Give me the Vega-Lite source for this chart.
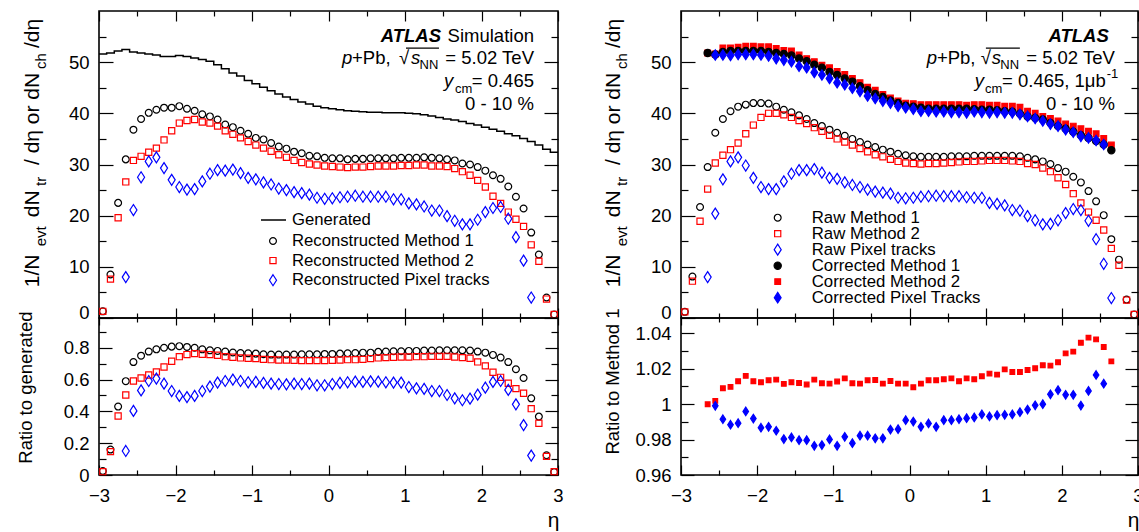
{
"$schema": "https://vega.github.io/schema/vega-lite/v6.json",
"padding": {"left": 15, "top": 9, "right": 0, "bottom": 0},
"background": "white",
"config": {
  "font": "Liberation Sans",
  "view": {"stroke": "black", "strokeWidth": 1.6},
  "axis": {"grid": false, "domain": false, "labelFont": "Liberation Sans", "labelFontSize": 18.5, "labelColor": "black", "tickColor": "black", "tickWidth": 1.2, "titleFont": "Liberation Sans", "titleColor": "black", "titleFontWeight": "normal", "labelFlush": false, "labelOverlap": false},
  "legend": {"labelFont": "Liberation Sans", "labelColor": "black", "padding": 0, "labelLimit": 400, "direction": "vertical", "columns": 1}
},
"datasets": {
"gen": [{"e":-3.0,"v":51.6},{"e":-2.9,"v":51.8},{"e":-2.8,"v":52.2},{"e":-2.7,"v":52.5},{"e":-2.6,"v":52.0},{"e":-2.5,"v":51.8},{"e":-2.4,"v":51.6},{"e":-2.3,"v":51.4},{"e":-2.2,"v":51.1},{"e":-2.1,"v":51.1},{"e":-2.0,"v":51.3},{"e":-1.9,"v":51.1},{"e":-1.8,"v":50.8},{"e":-1.7,"v":50.5},{"e":-1.6,"v":50.2},{"e":-1.5,"v":49.5},{"e":-1.4,"v":48.7},{"e":-1.3,"v":47.9},{"e":-1.2,"v":47.3},{"e":-1.1,"v":46.4},{"e":-1.0,"v":45.8},{"e":-0.9,"v":45.1},{"e":-0.8,"v":44.4},{"e":-0.7,"v":43.8},{"e":-0.6,"v":43.2},{"e":-0.5,"v":42.7},{"e":-0.4,"v":42.2},{"e":-0.3,"v":41.8},{"e":-0.2,"v":41.4},{"e":-0.1,"v":41.1},{"e":0.0,"v":40.9},{"e":0.1,"v":40.7},{"e":0.2,"v":40.5},{"e":0.3,"v":40.4},{"e":0.4,"v":40.3},{"e":0.5,"v":40.2},{"e":0.6,"v":40.2},{"e":0.7,"v":40.1},{"e":0.8,"v":40.1},{"e":0.9,"v":40.1},{"e":1.0,"v":40.0},{"e":1.1,"v":39.9},{"e":1.2,"v":39.7},{"e":1.3,"v":39.5},{"e":1.4,"v":39.2},{"e":1.5,"v":38.9},{"e":1.6,"v":38.7},{"e":1.7,"v":38.4},{"e":1.8,"v":38.0},{"e":1.9,"v":37.7},{"e":2.0,"v":37.3},{"e":2.1,"v":36.9},{"e":2.2,"v":36.5},{"e":2.3,"v":36.0},{"e":2.4,"v":35.6},{"e":2.5,"v":35.1},{"e":2.6,"v":34.5},{"e":2.7,"v":33.8},{"e":2.8,"v":33.0},{"e":2.9,"v":32.4},{"e":3.0,"v":32.4}],
"lt": [
{"e":-2.95,"s":"m1","v":1.3},{"e":-2.85,"s":"m1","v":8.5},{"e":-2.75,"s":"m1","v":22.5},{"e":-2.65,"s":"m1","v":31.0},{"e":-2.55,"s":"m1","v":36.8},{"e":-2.45,"s":"m1","v":38.9},{"e":-2.35,"s":"m1","v":40.1},{"e":-2.25,"s":"m1","v":40.7},{"e":-2.15,"s":"m1","v":41.1},{"e":-2.05,"s":"m1","v":41.1},{"e":-1.95,"s":"m1","v":41.4},{"e":-1.85,"s":"m1","v":40.9},{"e":-1.75,"s":"m1","v":40.5},{"e":-1.65,"s":"m1","v":39.8},{"e":-1.55,"s":"m1","v":39.4},{"e":-1.45,"s":"m1","v":38.8},{"e":-1.35,"s":"m1","v":37.8},{"e":-1.25,"s":"m1","v":37.3},{"e":-1.15,"s":"m1","v":36.6},{"e":-1.05,"s":"m1","v":36.0},{"e":-0.95,"s":"m1","v":35.2},{"e":-0.85,"s":"m1","v":34.9},{"e":-0.75,"s":"m1","v":34.2},{"e":-0.65,"s":"m1","v":33.5},{"e":-0.55,"s":"m1","v":33.1},{"e":-0.45,"s":"m1","v":32.5},{"e":-0.35,"s":"m1","v":32.2},{"e":-0.25,"s":"m1","v":31.7},{"e":-0.15,"s":"m1","v":31.6},{"e":-0.05,"s":"m1","v":31.3},{"e":0.05,"s":"m1","v":31.2},{"e":0.15,"s":"m1","v":31.2},{"e":0.25,"s":"m1","v":31.0},{"e":0.35,"s":"m1","v":31.1},{"e":0.45,"s":"m1","v":31.1},{"e":0.55,"s":"m1","v":31.2},{"e":0.65,"s":"m1","v":31.2},{"e":0.75,"s":"m1","v":31.2},{"e":0.85,"s":"m1","v":31.2},{"e":0.95,"s":"m1","v":31.3},{"e":1.05,"s":"m1","v":31.3},{"e":1.15,"s":"m1","v":31.3},{"e":1.25,"s":"m1","v":31.4},{"e":1.35,"s":"m1","v":31.3},{"e":1.45,"s":"m1","v":31.2},{"e":1.55,"s":"m1","v":31.0},{"e":1.65,"s":"m1","v":30.8},{"e":1.75,"s":"m1","v":30.2},{"e":1.85,"s":"m1","v":30.0},{"e":1.95,"s":"m1","v":29.5},{"e":2.05,"s":"m1","v":28.8},{"e":2.15,"s":"m1","v":27.9},{"e":2.25,"s":"m1","v":27.2},{"e":2.35,"s":"m1","v":25.7},{"e":2.45,"s":"m1","v":23.7},{"e":2.55,"s":"m1","v":21.4},{"e":2.65,"s":"m1","v":16.7},{"e":2.75,"s":"m1","v":12.4},{"e":2.85,"s":"m1","v":4.0},{"e":2.95,"s":"m1","v":0.7},
{"e":-2.95,"s":"m2","v":1.3},{"e":-2.85,"s":"m2","v":7.6},{"e":-2.75,"s":"m2","v":19.6},{"e":-2.65,"s":"m2","v":26.6},{"e":-2.55,"s":"m2","v":30.8},{"e":-2.45,"s":"m2","v":31.6},{"e":-2.35,"s":"m2","v":32.4},{"e":-2.25,"s":"m2","v":33.2},{"e":-2.15,"s":"m2","v":34.8},{"e":-2.05,"s":"m2","v":36.6},{"e":-1.95,"s":"m2","v":38.1},{"e":-1.85,"s":"m2","v":38.6},{"e":-1.75,"s":"m2","v":38.8},{"e":-1.65,"s":"m2","v":38.3},{"e":-1.55,"s":"m2","v":38.1},{"e":-1.45,"s":"m2","v":37.5},{"e":-1.35,"s":"m2","v":36.6},{"e":-1.25,"s":"m2","v":35.9},{"e":-1.15,"s":"m2","v":35.2},{"e":-1.05,"s":"m2","v":34.5},{"e":-0.95,"s":"m2","v":33.8},{"e":-0.85,"s":"m2","v":33.2},{"e":-0.75,"s":"m2","v":32.6},{"e":-0.65,"s":"m2","v":31.9},{"e":-0.55,"s":"m2","v":31.4},{"e":-0.45,"s":"m2","v":30.8},{"e":-0.35,"s":"m2","v":30.4},{"e":-0.25,"s":"m2","v":30.1},{"e":-0.15,"s":"m2","v":29.9},{"e":-0.05,"s":"m2","v":29.7},{"e":0.05,"s":"m2","v":29.6},{"e":0.15,"s":"m2","v":29.5},{"e":0.25,"s":"m2","v":29.4},{"e":0.35,"s":"m2","v":29.5},{"e":0.45,"s":"m2","v":29.5},{"e":0.55,"s":"m2","v":29.6},{"e":0.65,"s":"m2","v":29.7},{"e":0.75,"s":"m2","v":29.7},{"e":0.85,"s":"m2","v":29.7},{"e":0.95,"s":"m2","v":29.8},{"e":1.05,"s":"m2","v":29.8},{"e":1.15,"s":"m2","v":29.9},{"e":1.25,"s":"m2","v":29.9},{"e":1.35,"s":"m2","v":29.7},{"e":1.45,"s":"m2","v":29.7},{"e":1.55,"s":"m2","v":29.6},{"e":1.65,"s":"m2","v":29.2},{"e":1.75,"s":"m2","v":28.6},{"e":1.85,"s":"m2","v":27.9},{"e":1.95,"s":"m2","v":26.9},{"e":2.05,"s":"m2","v":25.6},{"e":2.15,"s":"m2","v":23.8},{"e":2.25,"s":"m2","v":22.4},{"e":2.35,"s":"m2","v":20.7},{"e":2.45,"s":"m2","v":19.3},{"e":2.55,"s":"m2","v":17.9},{"e":2.65,"s":"m2","v":14.3},{"e":2.75,"s":"m2","v":11.1},{"e":2.85,"s":"m2","v":3.7},{"e":2.95,"s":"m2","v":0.7},
{"e":-2.65,"s":"px","v":8.0},{"e":-2.55,"s":"px","v":21.1},{"e":-2.45,"s":"px","v":27.5},{"e":-2.35,"s":"px","v":30.6},{"e":-2.25,"s":"px","v":31.4},{"e":-2.15,"s":"px","v":29.3},{"e":-2.05,"s":"px","v":27.0},{"e":-1.95,"s":"px","v":25.6},{"e":-1.85,"s":"px","v":25.1},{"e":-1.75,"s":"px","v":25.2},{"e":-1.65,"s":"px","v":26.7},{"e":-1.55,"s":"px","v":28.2},{"e":-1.45,"s":"px","v":28.9},{"e":-1.35,"s":"px","v":28.8},{"e":-1.25,"s":"px","v":29.0},{"e":-1.15,"s":"px","v":28.3},{"e":-1.05,"s":"px","v":27.4},{"e":-0.95,"s":"px","v":27.1},{"e":-0.85,"s":"px","v":26.5},{"e":-0.75,"s":"px","v":26.1},{"e":-0.65,"s":"px","v":25.3},{"e":-0.55,"s":"px","v":25.0},{"e":-0.45,"s":"px","v":24.6},{"e":-0.35,"s":"px","v":24.4},{"e":-0.25,"s":"px","v":24.1},{"e":-0.15,"s":"px","v":23.5},{"e":-0.05,"s":"px","v":23.3},{"e":0.05,"s":"px","v":23.4},{"e":0.15,"s":"px","v":23.6},{"e":0.25,"s":"px","v":23.7},{"e":0.35,"s":"px","v":23.9},{"e":0.45,"s":"px","v":23.7},{"e":0.55,"s":"px","v":23.7},{"e":0.65,"s":"px","v":23.7},{"e":0.75,"s":"px","v":23.7},{"e":0.85,"s":"px","v":23.2},{"e":0.95,"s":"px","v":23.2},{"e":1.05,"s":"px","v":22.4},{"e":1.15,"s":"px","v":22.2},{"e":1.25,"s":"px","v":21.8},{"e":1.35,"s":"px","v":21.0},{"e":1.45,"s":"px","v":21.0},{"e":1.55,"s":"px","v":19.9},{"e":1.65,"s":"px","v":19.0},{"e":1.75,"s":"px","v":18.3},{"e":1.85,"s":"px","v":18.3},{"e":1.95,"s":"px","v":19.2},{"e":2.05,"s":"px","v":20.7},{"e":2.15,"s":"px","v":21.5},{"e":2.25,"s":"px","v":21.7},{"e":2.35,"s":"px","v":19.4},{"e":2.45,"s":"px","v":15.8},{"e":2.55,"s":"px","v":11.2},{"e":2.65,"s":"px","v":4.0}
],
"lb": [
{"e":-2.95,"s":"m1","v":0.025},{"e":-2.85,"s":"m1","v":0.16},{"e":-2.75,"s":"m1","v":0.43},{"e":-2.65,"s":"m1","v":0.59},{"e":-2.55,"s":"m1","v":0.71},{"e":-2.45,"s":"m1","v":0.75},{"e":-2.35,"s":"m1","v":0.776},{"e":-2.25,"s":"m1","v":0.79},{"e":-2.15,"s":"m1","v":0.8},{"e":-2.05,"s":"m1","v":0.807},{"e":-1.95,"s":"m1","v":0.81},{"e":-1.85,"s":"m1","v":0.805},{"e":-1.75,"s":"m1","v":0.8},{"e":-1.65,"s":"m1","v":0.79},{"e":-1.55,"s":"m1","v":0.784},{"e":-1.45,"s":"m1","v":0.78},{"e":-1.35,"s":"m1","v":0.776},{"e":-1.25,"s":"m1","v":0.77},{"e":-1.15,"s":"m1","v":0.767},{"e":-1.05,"s":"m1","v":0.765},{"e":-0.95,"s":"m1","v":0.763},{"e":-0.85,"s":"m1","v":0.759},{"e":-0.75,"s":"m1","v":0.757},{"e":-0.65,"s":"m1","v":0.757},{"e":-0.55,"s":"m1","v":0.757},{"e":-0.45,"s":"m1","v":0.757},{"e":-0.35,"s":"m1","v":0.759},{"e":-0.25,"s":"m1","v":0.759},{"e":-0.15,"s":"m1","v":0.759},{"e":-0.05,"s":"m1","v":0.761},{"e":0.05,"s":"m1","v":0.761},{"e":0.15,"s":"m1","v":0.763},{"e":0.25,"s":"m1","v":0.765},{"e":0.35,"s":"m1","v":0.767},{"e":0.45,"s":"m1","v":0.769},{"e":0.55,"s":"m1","v":0.769},{"e":0.65,"s":"m1","v":0.774},{"e":0.75,"s":"m1","v":0.776},{"e":0.85,"s":"m1","v":0.778},{"e":0.95,"s":"m1","v":0.778},{"e":1.05,"s":"m1","v":0.78},{"e":1.15,"s":"m1","v":0.78},{"e":1.25,"s":"m1","v":0.782},{"e":1.35,"s":"m1","v":0.782},{"e":1.45,"s":"m1","v":0.784},{"e":1.55,"s":"m1","v":0.784},{"e":1.65,"s":"m1","v":0.784},{"e":1.75,"s":"m1","v":0.784},{"e":1.85,"s":"m1","v":0.782},{"e":1.95,"s":"m1","v":0.776},{"e":2.05,"s":"m1","v":0.769},{"e":2.15,"s":"m1","v":0.755},{"e":2.25,"s":"m1","v":0.738},{"e":2.35,"s":"m1","v":0.71},{"e":2.45,"s":"m1","v":0.665},{"e":2.55,"s":"m1","v":0.61},{"e":2.65,"s":"m1","v":0.482},{"e":2.75,"s":"m1","v":0.367},{"e":2.85,"s":"m1","v":0.124},{"e":2.95,"s":"m1","v":0.019},
{"e":-2.95,"s":"m2","v":0.021},{"e":-2.85,"s":"m2","v":0.147},{"e":-2.75,"s":"m2","v":0.371},{"e":-2.65,"s":"m2","v":0.503},{"e":-2.55,"s":"m2","v":0.591},{"e":-2.45,"s":"m2","v":0.61},{"e":-2.35,"s":"m2","v":0.629},{"e":-2.25,"s":"m2","v":0.648},{"e":-2.15,"s":"m2","v":0.679},{"e":-2.05,"s":"m2","v":0.715},{"e":-1.95,"s":"m2","v":0.744},{"e":-1.85,"s":"m2","v":0.757},{"e":-1.75,"s":"m2","v":0.763},{"e":-1.65,"s":"m2","v":0.759},{"e":-1.55,"s":"m2","v":0.757},{"e":-1.45,"s":"m2","v":0.753},{"e":-1.35,"s":"m2","v":0.744},{"e":-1.25,"s":"m2","v":0.74},{"e":-1.15,"s":"m2","v":0.736},{"e":-1.05,"s":"m2","v":0.734},{"e":-0.95,"s":"m2","v":0.732},{"e":-0.85,"s":"m2","v":0.727},{"e":-0.75,"s":"m2","v":0.725},{"e":-0.65,"s":"m2","v":0.723},{"e":-0.55,"s":"m2","v":0.723},{"e":-0.45,"s":"m2","v":0.721},{"e":-0.35,"s":"m2","v":0.719},{"e":-0.25,"s":"m2","v":0.719},{"e":-0.15,"s":"m2","v":0.719},{"e":-0.05,"s":"m2","v":0.719},{"e":0.05,"s":"m2","v":0.721},{"e":0.15,"s":"m2","v":0.723},{"e":0.25,"s":"m2","v":0.725},{"e":0.35,"s":"m2","v":0.725},{"e":0.45,"s":"m2","v":0.727},{"e":0.55,"s":"m2","v":0.732},{"e":0.65,"s":"m2","v":0.736},{"e":0.75,"s":"m2","v":0.738},{"e":0.85,"s":"m2","v":0.74},{"e":0.95,"s":"m2","v":0.742},{"e":1.05,"s":"m2","v":0.742},{"e":1.15,"s":"m2","v":0.744},{"e":1.25,"s":"m2","v":0.744},{"e":1.35,"s":"m2","v":0.746},{"e":1.45,"s":"m2","v":0.746},{"e":1.55,"s":"m2","v":0.746},{"e":1.65,"s":"m2","v":0.742},{"e":1.75,"s":"m2","v":0.738},{"e":1.85,"s":"m2","v":0.734},{"e":1.95,"s":"m2","v":0.711},{"e":2.05,"s":"m2","v":0.686},{"e":2.15,"s":"m2","v":0.646},{"e":2.25,"s":"m2","v":0.614},{"e":2.35,"s":"m2","v":0.577},{"e":2.45,"s":"m2","v":0.543},{"e":2.55,"s":"m2","v":0.514},{"e":2.65,"s":"m2","v":0.417},{"e":2.75,"s":"m2","v":0.325},{"e":2.85,"s":"m2","v":0.117},{"e":2.95,"s":"m2","v":0.021},
{"e":-2.65,"s":"px","v":0.151},{"e":-2.55,"s":"px","v":0.403},{"e":-2.45,"s":"px","v":0.532},{"e":-2.35,"s":"px","v":0.591},{"e":-2.25,"s":"px","v":0.606},{"e":-2.15,"s":"px","v":0.574},{"e":-2.05,"s":"px","v":0.528},{"e":-1.95,"s":"px","v":0.497},{"e":-1.85,"s":"px","v":0.49},{"e":-1.75,"s":"px","v":0.497},{"e":-1.65,"s":"px","v":0.528},{"e":-1.55,"s":"px","v":0.556},{"e":-1.45,"s":"px","v":0.581},{"e":-1.35,"s":"px","v":0.591},{"e":-1.25,"s":"px","v":0.6},{"e":-1.15,"s":"px","v":0.591},{"e":-1.05,"s":"px","v":0.583},{"e":-0.95,"s":"px","v":0.585},{"e":-0.85,"s":"px","v":0.579},{"e":-0.75,"s":"px","v":0.574},{"e":-0.65,"s":"px","v":0.572},{"e":-0.55,"s":"px","v":0.57},{"e":-0.45,"s":"px","v":0.574},{"e":-0.35,"s":"px","v":0.572},{"e":-0.25,"s":"px","v":0.574},{"e":-0.15,"s":"px","v":0.564},{"e":-0.05,"s":"px","v":0.564},{"e":0.05,"s":"px","v":0.572},{"e":0.15,"s":"px","v":0.579},{"e":0.25,"s":"px","v":0.583},{"e":0.35,"s":"px","v":0.587},{"e":0.45,"s":"px","v":0.585},{"e":0.55,"s":"px","v":0.589},{"e":0.65,"s":"px","v":0.587},{"e":0.75,"s":"px","v":0.583},{"e":0.85,"s":"px","v":0.581},{"e":0.95,"s":"px","v":0.581},{"e":1.05,"s":"px","v":0.553},{"e":1.15,"s":"px","v":0.545},{"e":1.25,"s":"px","v":0.541},{"e":1.35,"s":"px","v":0.528},{"e":1.45,"s":"px","v":0.528},{"e":1.55,"s":"px","v":0.503},{"e":1.65,"s":"px","v":0.482},{"e":1.75,"s":"px","v":0.47},{"e":1.85,"s":"px","v":0.48},{"e":1.95,"s":"px","v":0.505},{"e":2.05,"s":"px","v":0.549},{"e":2.15,"s":"px","v":0.585},{"e":2.25,"s":"px","v":0.591},{"e":2.35,"s":"px","v":0.535},{"e":2.45,"s":"px","v":0.444},{"e":2.55,"s":"px","v":0.314},{"e":2.65,"s":"px","v":0.122}
],
"rt": [
{"e":-2.95,"s":"r1","v":1.2},{"e":-2.85,"s":"r1","v":8.1},{"e":-2.75,"s":"r1","v":21.7},{"e":-2.65,"s":"r1","v":29.5},{"e":-2.55,"s":"r1","v":36.2},{"e":-2.45,"s":"r1","v":38.9},{"e":-2.35,"s":"r1","v":40.4},{"e":-2.25,"s":"r1","v":41.3},{"e":-2.15,"s":"r1","v":41.7},{"e":-2.05,"s":"r1","v":42.0},{"e":-1.95,"s":"r1","v":42.0},{"e":-1.85,"s":"r1","v":41.9},{"e":-1.75,"s":"r1","v":41.3},{"e":-1.65,"s":"r1","v":40.7},{"e":-1.55,"s":"r1","v":40.2},{"e":-1.45,"s":"r1","v":39.6},{"e":-1.35,"s":"r1","v":38.9},{"e":-1.25,"s":"r1","v":38.1},{"e":-1.15,"s":"r1","v":37.5},{"e":-1.05,"s":"r1","v":36.8},{"e":-0.95,"s":"r1","v":36.2},{"e":-0.85,"s":"r1","v":35.6},{"e":-0.75,"s":"r1","v":35.0},{"e":-0.65,"s":"r1","v":34.4},{"e":-0.55,"s":"r1","v":33.9},{"e":-0.45,"s":"r1","v":33.4},{"e":-0.35,"s":"r1","v":32.9},{"e":-0.25,"s":"r1","v":32.5},{"e":-0.15,"s":"r1","v":32.1},{"e":-0.05,"s":"r1","v":31.8},{"e":0.05,"s":"r1","v":31.6},{"e":0.15,"s":"r1","v":31.5},{"e":0.25,"s":"r1","v":31.5},{"e":0.35,"s":"r1","v":31.5},{"e":0.45,"s":"r1","v":31.5},{"e":0.55,"s":"r1","v":31.6},{"e":0.65,"s":"r1","v":31.6},{"e":0.75,"s":"r1","v":31.6},{"e":0.85,"s":"r1","v":31.7},{"e":0.95,"s":"r1","v":31.7},{"e":1.05,"s":"r1","v":31.7},{"e":1.15,"s":"r1","v":31.7},{"e":1.25,"s":"r1","v":31.7},{"e":1.35,"s":"r1","v":31.7},{"e":1.45,"s":"r1","v":31.6},{"e":1.55,"s":"r1","v":31.3},{"e":1.65,"s":"r1","v":31.0},{"e":1.75,"s":"r1","v":30.6},{"e":1.85,"s":"r1","v":30.1},{"e":1.95,"s":"r1","v":29.3},{"e":2.05,"s":"r1","v":28.6},{"e":2.15,"s":"r1","v":27.6},{"e":2.25,"s":"r1","v":26.5},{"e":2.35,"s":"r1","v":24.8},{"e":2.45,"s":"r1","v":22.8},{"e":2.55,"s":"r1","v":20.1},{"e":2.65,"s":"r1","v":15.4},{"e":2.75,"s":"r1","v":11.4},{"e":2.85,"s":"r1","v":3.6},{"e":2.95,"s":"r1","v":0.7},
{"e":-2.95,"s":"r2","v":1.2},{"e":-2.85,"s":"r2","v":7.2},{"e":-2.75,"s":"r2","v":18.9},{"e":-2.65,"s":"r2","v":25.2},{"e":-2.55,"s":"r2","v":30.3},{"e":-2.45,"s":"r2","v":31.8},{"e":-2.35,"s":"r2","v":32.9},{"e":-2.25,"s":"r2","v":34.2},{"e":-2.15,"s":"r2","v":36.0},{"e":-2.05,"s":"r2","v":37.7},{"e":-1.95,"s":"r2","v":39.2},{"e":-1.85,"s":"r2","v":40.0},{"e":-1.75,"s":"r2","v":40.0},{"e":-1.65,"s":"r2","v":39.7},{"e":-1.55,"s":"r2","v":39.2},{"e":-1.45,"s":"r2","v":38.6},{"e":-1.35,"s":"r2","v":38.0},{"e":-1.25,"s":"r2","v":37.2},{"e":-1.15,"s":"r2","v":36.5},{"e":-1.05,"s":"r2","v":35.7},{"e":-0.95,"s":"r2","v":35.0},{"e":-0.85,"s":"r2","v":34.4},{"e":-0.75,"s":"r2","v":33.8},{"e":-0.65,"s":"r2","v":33.1},{"e":-0.55,"s":"r2","v":32.5},{"e":-0.45,"s":"r2","v":31.9},{"e":-0.35,"s":"r2","v":31.5},{"e":-0.25,"s":"r2","v":31.0},{"e":-0.15,"s":"r2","v":30.6},{"e":-0.05,"s":"r2","v":30.3},{"e":0.05,"s":"r2","v":30.2},{"e":0.15,"s":"r2","v":30.1},{"e":0.25,"s":"r2","v":30.2},{"e":0.35,"s":"r2","v":30.2},{"e":0.45,"s":"r2","v":30.3},{"e":0.55,"s":"r2","v":30.4},{"e":0.65,"s":"r2","v":30.5},{"e":0.75,"s":"r2","v":30.6},{"e":0.85,"s":"r2","v":30.6},{"e":0.95,"s":"r2","v":30.7},{"e":1.05,"s":"r2","v":30.8},{"e":1.15,"s":"r2","v":30.8},{"e":1.25,"s":"r2","v":30.8},{"e":1.35,"s":"r2","v":30.7},{"e":1.45,"s":"r2","v":30.6},{"e":1.55,"s":"r2","v":30.2},{"e":1.65,"s":"r2","v":30.0},{"e":1.75,"s":"r2","v":29.3},{"e":1.85,"s":"r2","v":28.6},{"e":1.95,"s":"r2","v":27.4},{"e":2.05,"s":"r2","v":26.1},{"e":2.15,"s":"r2","v":24.3},{"e":2.25,"s":"r2","v":22.5},{"e":2.35,"s":"r2","v":20.7},{"e":2.45,"s":"r2","v":19.1},{"e":2.55,"s":"r2","v":17.2},{"e":2.65,"s":"r2","v":13.6},{"e":2.75,"s":"r2","v":10.3},{"e":2.85,"s":"r2","v":3.5},{"e":2.95,"s":"r2","v":0.7},
{"e":-2.65,"s":"rp","v":8.0},{"e":-2.55,"s":"rp","v":20.4},{"e":-2.45,"s":"rp","v":27.1},{"e":-2.35,"s":"rp","v":30.6},{"e":-2.25,"s":"rp","v":31.4},{"e":-2.15,"s":"rp","v":29.8},{"e":-2.05,"s":"rp","v":27.4},{"e":-1.95,"s":"rp","v":25.6},{"e":-1.85,"s":"rp","v":25.2},{"e":-1.75,"s":"rp","v":25.2},{"e":-1.65,"s":"rp","v":26.7},{"e":-1.55,"s":"rp","v":28.2},{"e":-1.45,"s":"rp","v":28.9},{"e":-1.35,"s":"rp","v":28.9},{"e":-1.25,"s":"rp","v":29.1},{"e":-1.15,"s":"rp","v":28.4},{"e":-1.05,"s":"rp","v":27.4},{"e":-0.95,"s":"rp","v":27.2},{"e":-0.85,"s":"rp","v":26.5},{"e":-0.75,"s":"rp","v":26.0},{"e":-0.65,"s":"rp","v":25.6},{"e":-0.55,"s":"rp","v":25.1},{"e":-0.45,"s":"rp","v":24.7},{"e":-0.35,"s":"rp","v":24.5},{"e":-0.25,"s":"rp","v":24.3},{"e":-0.15,"s":"rp","v":23.5},{"e":-0.05,"s":"rp","v":23.4},{"e":0.05,"s":"rp","v":23.5},{"e":0.15,"s":"rp","v":23.7},{"e":0.25,"s":"rp","v":23.8},{"e":0.35,"s":"rp","v":23.9},{"e":0.45,"s":"rp","v":23.8},{"e":0.55,"s":"rp","v":23.8},{"e":0.65,"s":"rp","v":23.8},{"e":0.75,"s":"rp","v":23.6},{"e":0.85,"s":"rp","v":23.5},{"e":0.95,"s":"rp","v":23.5},{"e":1.05,"s":"rp","v":22.5},{"e":1.15,"s":"rp","v":22.3},{"e":1.25,"s":"rp","v":22.0},{"e":1.35,"s":"rp","v":21.1},{"e":1.45,"s":"rp","v":21.0},{"e":1.55,"s":"rp","v":19.9},{"e":1.65,"s":"rp","v":19.1},{"e":1.75,"s":"rp","v":18.3},{"e":1.85,"s":"rp","v":18.4},{"e":1.95,"s":"rp","v":19.1},{"e":2.05,"s":"rp","v":20.5},{"e":2.15,"s":"rp","v":21.3},{"e":2.25,"s":"rp","v":21.1},{"e":2.35,"s":"rp","v":19.0},{"e":2.45,"s":"rp","v":15.4},{"e":2.55,"s":"rp","v":10.6},{"e":2.65,"s":"rp","v":3.9},
{"e":-2.65,"s":"c2","v":51.8},{"e":-2.55,"s":"c2","v":51.6},{"e":-2.45,"s":"c2","v":52.8},{"e":-2.35,"s":"c2","v":52.8},{"e":-2.25,"s":"c2","v":52.9},{"e":-2.15,"s":"c2","v":53.1},{"e":-2.05,"s":"c2","v":53.1},{"e":-1.95,"s":"c2","v":53.0},{"e":-1.85,"s":"c2","v":53.0},{"e":-1.75,"s":"c2","v":52.7},{"e":-1.65,"s":"c2","v":52.3},{"e":-1.55,"s":"c2","v":52.2},{"e":-1.45,"s":"c2","v":51.4},{"e":-1.35,"s":"c2","v":50.7},{"e":-1.25,"s":"c2","v":50.1},{"e":-1.15,"s":"c2","v":49.4},{"e":-1.05,"s":"c2","v":48.9},{"e":-0.95,"s":"c2","v":48.2},{"e":-0.85,"s":"c2","v":47.6},{"e":-0.75,"s":"c2","v":46.8},{"e":-0.65,"s":"c2","v":46.0},{"e":-0.55,"s":"c2","v":45.1},{"e":-0.45,"s":"c2","v":44.5},{"e":-0.35,"s":"c2","v":43.7},{"e":-0.25,"s":"c2","v":43.0},{"e":-0.15,"s":"c2","v":42.4},{"e":-0.05,"s":"c2","v":42.0},{"e":0.05,"s":"c2","v":41.9},{"e":0.15,"s":"c2","v":41.7},{"e":0.25,"s":"c2","v":41.7},{"e":0.35,"s":"c2","v":41.7},{"e":0.45,"s":"c2","v":41.7},{"e":0.55,"s":"c2","v":41.7},{"e":0.65,"s":"c2","v":41.7},{"e":0.75,"s":"c2","v":41.6},{"e":0.85,"s":"c2","v":41.7},{"e":0.95,"s":"c2","v":41.7},{"e":1.05,"s":"c2","v":41.6},{"e":1.15,"s":"c2","v":41.6},{"e":1.25,"s":"c2","v":41.4},{"e":1.35,"s":"c2","v":41.4},{"e":1.45,"s":"c2","v":41.2},{"e":1.55,"s":"c2","v":40.4},{"e":1.65,"s":"c2","v":40.0},{"e":1.75,"s":"c2","v":39.4},{"e":1.85,"s":"c2","v":39.0},{"e":1.95,"s":"c2","v":38.5},{"e":2.05,"s":"c2","v":37.9},{"e":2.15,"s":"c2","v":37.5},{"e":2.25,"s":"c2","v":37.0},{"e":2.35,"s":"c2","v":36.5},{"e":2.45,"s":"c2","v":36.0},{"e":2.55,"s":"c2","v":35.1},{"e":2.65,"s":"c2","v":33.8},
{"e":-2.65,"s":"c1","v":51.8},{"e":-2.55,"s":"c1","v":51.5},{"e":-2.45,"s":"c1","v":52.0},{"e":-2.35,"s":"c1","v":52.2},{"e":-2.25,"s":"c1","v":52.2},{"e":-2.15,"s":"c1","v":52.2},{"e":-2.05,"s":"c1","v":52.2},{"e":-1.95,"s":"c1","v":52.2},{"e":-1.85,"s":"c1","v":52.0},{"e":-1.75,"s":"c1","v":51.8},{"e":-1.65,"s":"c1","v":51.6},{"e":-1.55,"s":"c1","v":51.3},{"e":-1.45,"s":"c1","v":50.7},{"e":-1.35,"s":"c1","v":50.2},{"e":-1.25,"s":"c1","v":49.5},{"e":-1.15,"s":"c1","v":48.9},{"e":-1.05,"s":"c1","v":48.1},{"e":-0.95,"s":"c1","v":47.5},{"e":-0.85,"s":"c1","v":46.8},{"e":-0.75,"s":"c1","v":46.2},{"e":-0.65,"s":"c1","v":45.3},{"e":-0.55,"s":"c1","v":44.5},{"e":-0.45,"s":"c1","v":43.8},{"e":-0.35,"s":"c1","v":43.2},{"e":-0.25,"s":"c1","v":42.5},{"e":-0.15,"s":"c1","v":42.0},{"e":-0.05,"s":"c1","v":41.5},{"e":0.05,"s":"c1","v":41.3},{"e":0.15,"s":"c1","v":41.1},{"e":0.25,"s":"c1","v":40.9},{"e":0.35,"s":"c1","v":40.9},{"e":0.45,"s":"c1","v":40.9},{"e":0.55,"s":"c1","v":40.9},{"e":0.65,"s":"c1","v":40.9},{"e":0.75,"s":"c1","v":40.9},{"e":0.85,"s":"c1","v":40.8},{"e":0.95,"s":"c1","v":40.7},{"e":1.05,"s":"c1","v":40.7},{"e":1.15,"s":"c1","v":40.6},{"e":1.25,"s":"c1","v":40.4},{"e":1.35,"s":"c1","v":40.3},{"e":1.45,"s":"c1","v":39.9},{"e":1.55,"s":"c1","v":39.4},{"e":1.65,"s":"c1","v":39.1},{"e":1.75,"s":"c1","v":38.8},{"e":1.85,"s":"c1","v":38.1},{"e":1.95,"s":"c1","v":37.5},{"e":2.05,"s":"c1","v":37.0},{"e":2.15,"s":"c1","v":36.4},{"e":2.25,"s":"c1","v":35.7},{"e":2.35,"s":"c1","v":35.2},{"e":2.45,"s":"c1","v":34.6},{"e":2.55,"s":"c1","v":33.9},{"e":2.65,"s":"c1","v":32.8},
{"e":-2.55,"s":"cp","v":51.4},{"e":-2.45,"s":"cp","v":51.4},{"e":-2.35,"s":"cp","v":51.3},{"e":-2.25,"s":"cp","v":51.5},{"e":-2.15,"s":"cp","v":51.5},{"e":-2.05,"s":"cp","v":51.5},{"e":-1.95,"s":"cp","v":51.4},{"e":-1.85,"s":"cp","v":51.2},{"e":-1.75,"s":"cp","v":50.7},{"e":-1.65,"s":"cp","v":50.4},{"e":-1.55,"s":"cp","v":50.1},{"e":-1.45,"s":"cp","v":49.2},{"e":-1.35,"s":"cp","v":48.9},{"e":-1.25,"s":"cp","v":48.0},{"e":-1.15,"s":"cp","v":47.5},{"e":-1.05,"s":"cp","v":46.8},{"e":-0.95,"s":"cp","v":46.0},{"e":-0.85,"s":"cp","v":45.6},{"e":-0.75,"s":"cp","v":44.9},{"e":-0.65,"s":"cp","v":44.3},{"e":-0.55,"s":"cp","v":43.4},{"e":-0.45,"s":"cp","v":42.9},{"e":-0.35,"s":"cp","v":42.4},{"e":-0.25,"s":"cp","v":42.0},{"e":-0.15,"s":"cp","v":41.4},{"e":-0.05,"s":"cp","v":41.1},{"e":0.05,"s":"cp","v":40.8},{"e":0.15,"s":"cp","v":40.4},{"e":0.25,"s":"cp","v":40.4},{"e":0.35,"s":"cp","v":40.3},{"e":0.45,"s":"cp","v":40.3},{"e":0.55,"s":"cp","v":40.2},{"e":0.65,"s":"cp","v":40.2},{"e":0.75,"s":"cp","v":40.1},{"e":0.85,"s":"cp","v":40.3},{"e":0.95,"s":"cp","v":40.2},{"e":1.05,"s":"cp","v":40.1},{"e":1.15,"s":"cp","v":40.2},{"e":1.25,"s":"cp","v":40.1},{"e":1.35,"s":"cp","v":40.1},{"e":1.45,"s":"cp","v":39.8},{"e":1.55,"s":"cp","v":39.4},{"e":1.65,"s":"cp","v":39.0},{"e":1.75,"s":"cp","v":38.5},{"e":1.85,"s":"cp","v":37.9},{"e":1.95,"s":"cp","v":37.5},{"e":2.05,"s":"cp","v":36.8},{"e":2.15,"s":"cp","v":36.3},{"e":2.25,"s":"cp","v":35.5},{"e":2.35,"s":"cp","v":35.2},{"e":2.45,"s":"cp","v":34.7},{"e":2.55,"s":"cp","v":33.9}
],
"rb": [
{"e":-2.65,"s":"c2","v":1.0},{"e":-2.55,"s":"c2","v":1.0019},{"e":-2.45,"s":"c2","v":1.009},{"e":-2.35,"s":"c2","v":1.0098},{"e":-2.25,"s":"c2","v":1.013},{"e":-2.15,"s":"c2","v":1.016},{"e":-2.05,"s":"c2","v":1.013},{"e":-1.95,"s":"c2","v":1.0124},{"e":-1.85,"s":"c2","v":1.0135},{"e":-1.75,"s":"c2","v":1.0139},{"e":-1.65,"s":"c2","v":1.0115},{"e":-1.55,"s":"c2","v":1.0124},{"e":-1.45,"s":"c2","v":1.012},{"e":-1.35,"s":"c2","v":1.0111},{"e":-1.25,"s":"c2","v":1.0139},{"e":-1.15,"s":"c2","v":1.0118},{"e":-1.05,"s":"c2","v":1.0116},{"e":-0.95,"s":"c2","v":1.0128},{"e":-0.85,"s":"c2","v":1.0146},{"e":-0.75,"s":"c2","v":1.0118},{"e":-0.65,"s":"c2","v":1.0116},{"e":-0.55,"s":"c2","v":1.0135},{"e":-0.45,"s":"c2","v":1.0137},{"e":-0.35,"s":"c2","v":1.0116},{"e":-0.25,"s":"c2","v":1.0131},{"e":-0.15,"s":"c2","v":1.0116},{"e":-0.05,"s":"c2","v":1.0116},{"e":0.05,"s":"c2","v":1.0096},{"e":0.15,"s":"c2","v":1.0116},{"e":0.25,"s":"c2","v":1.0135},{"e":0.35,"s":"c2","v":1.0135},{"e":0.45,"s":"c2","v":1.0141},{"e":0.55,"s":"c2","v":1.0146},{"e":0.65,"s":"c2","v":1.013},{"e":0.75,"s":"c2","v":1.0146},{"e":0.85,"s":"c2","v":1.0141},{"e":0.95,"s":"c2","v":1.0158},{"e":1.05,"s":"c2","v":1.0173},{"e":1.15,"s":"c2","v":1.0167},{"e":1.25,"s":"c2","v":1.0197},{"e":1.35,"s":"c2","v":1.0182},{"e":1.45,"s":"c2","v":1.0182},{"e":1.55,"s":"c2","v":1.0193},{"e":1.65,"s":"c2","v":1.0203},{"e":1.75,"s":"c2","v":1.022},{"e":1.85,"s":"c2","v":1.0218},{"e":1.95,"s":"c2","v":1.0237},{"e":2.05,"s":"c2","v":1.0287},{"e":2.15,"s":"c2","v":1.0297},{"e":2.25,"s":"c2","v":1.0347},{"e":2.35,"s":"c2","v":1.0376},{"e":2.45,"s":"c2","v":1.0366},{"e":2.55,"s":"c2","v":1.0323},{"e":2.65,"s":"c2","v":1.0242},
{"e":-2.55,"s":"cp","v":0.9991},{"e":-2.45,"s":"cp","v":0.9915},{"e":-2.35,"s":"cp","v":0.9884},{"e":-2.25,"s":"cp","v":0.9893},{"e":-2.15,"s":"cp","v":0.9959},{"e":-2.05,"s":"cp","v":0.9919},{"e":-1.95,"s":"cp","v":0.9867},{"e":-1.85,"s":"cp","v":0.9872},{"e":-1.75,"s":"cp","v":0.985},{"e":-1.65,"s":"cp","v":0.9803},{"e":-1.55,"s":"cp","v":0.9812},{"e":-1.45,"s":"cp","v":0.9797},{"e":-1.35,"s":"cp","v":0.9797},{"e":-1.25,"s":"cp","v":0.9765},{"e":-1.15,"s":"cp","v":0.9769},{"e":-1.05,"s":"cp","v":0.9801},{"e":-0.95,"s":"cp","v":0.9765},{"e":-0.85,"s":"cp","v":0.9816},{"e":-0.75,"s":"cp","v":0.978},{"e":-0.65,"s":"cp","v":0.9822},{"e":-0.55,"s":"cp","v":0.9822},{"e":-0.45,"s":"cp","v":0.9807},{"e":-0.35,"s":"cp","v":0.9807},{"e":-0.25,"s":"cp","v":0.9857},{"e":-0.15,"s":"cp","v":0.9859},{"e":-0.05,"s":"cp","v":0.991},{"e":0.05,"s":"cp","v":0.9902},{"e":0.15,"s":"cp","v":0.9872},{"e":0.25,"s":"cp","v":0.9891},{"e":0.35,"s":"cp","v":0.9872},{"e":0.45,"s":"cp","v":0.991},{"e":0.55,"s":"cp","v":0.991},{"e":0.65,"s":"cp","v":0.9915},{"e":0.75,"s":"cp","v":0.9921},{"e":0.85,"s":"cp","v":0.9925},{"e":0.95,"s":"cp","v":0.9942},{"e":1.05,"s":"cp","v":0.9931},{"e":1.15,"s":"cp","v":0.9938},{"e":1.25,"s":"cp","v":0.994},{"e":1.35,"s":"cp","v":0.9942},{"e":1.45,"s":"cp","v":0.9955},{"e":1.55,"s":"cp","v":0.997},{"e":1.65,"s":"cp","v":0.9994},{"e":1.75,"s":"cp","v":1.0},{"e":1.85,"s":"cp","v":1.0056},{"e":1.95,"s":"cp","v":1.0079},{"e":2.05,"s":"cp","v":1.0053},{"e":2.15,"s":"cp","v":1.0053},{"e":2.25,"s":"cp","v":0.9992},{"e":2.35,"s":"cp","v":1.0075},{"e":2.45,"s":"cp","v":1.0165},{"e":2.55,"s":"cp","v":1.0116}
]
},
"spacing": 38,
"resolve": {"scale": {"shape": "independent", "stroke": "independent", "fill": "independent", "color": "independent"}},
"hconcat": [
{
"spacing": 0,
"bounds": "flush",
"resolve": {"scale": {"shape": "independent", "stroke": "independent", "fill": "independent", "color": "independent"}},
"vconcat": [
{
"width": 459, "height": 307,
"resolve": {"axis": {"x": "independent", "y": "independent"}},
"layer": [
{"data": {"name": "gen"}, "mark": {"type": "line", "interpolate": "step-after", "strokeWidth": 1.5},
 "encoding": {
  "x": {"field": "e", "type": "quantitative", "scale": {"domain": [-3, 3], "nice": false, "zero": false}, "axis": {"orient": "bottom", "values": [-3, -2, -1, 0, 1, 2, 3], "labels": false, "tickSize": -10, "title": null}},
  "y": {"field": "v", "type": "quantitative", "scale": {"domain": [0, 60], "nice": false, "zero": false}, "axis": {"orient": "left", "values": [0, 10, 20, 30, 40, 50], "labels": false, "tickSize": -14, "title": null}},
  "color": {"datum": "Generated", "scale": {"range": ["black"]}, "legend": {"title": null, "orient": "none", "legendX": 161, "legendY": 195.5, "symbolType": "stroke", "symbolSize": 625, "symbolStrokeWidth": 1.5, "labelFontSize": 16.7, "labelOffset": 5}}
 }},
{"data": {"name": "lt"}, "mark": {"type": "point", "filled": false, "size": 121, "strokeWidth": 1.2, "opacity": 1},
 "encoding": {
  "x": {"field": "e", "type": "quantitative", "scale": {"domain": [-3, 3], "nice": false, "zero": false}, "axis": {"orient": "bottom", "values": [-2.5, -1.5, -0.5, 0.5, 1.5, 2.5], "labels": false, "tickSize": -5, "title": null}},
  "y": {"field": "v", "type": "quantitative", "scale": {"domain": [0, 60], "nice": false, "zero": false}, "axis": {"orient": "left", "values": [0, 10, 20, 30, 40, 50], "ticks": false, "labelPadding": 10, "format": "~r", "title": null, "labelBaseline": {"condition": {"test": "datum.value == 0", "value": "alphabetic"}, "value": "middle"}}},
  "shape": {"field": "s", "type": "nominal", "scale": {"domain": ["m1", "m2", "px"], "range": ["M -0.62 0 A 0.62 0.62 0 1 0 0.62 0 A 0.62 0.62 0 1 0 -0.62 0 Z", "M -0.56 -0.56 H 0.56 V 0.56 H -0.56 Z", "M 0 -1 L 0.64 0 L 0 1 L -0.64 0 Z"]},
    "legend": {"title": null, "orient": "none", "legendX": 165.65, "legendY": 221.65, "symbolSize": 121, "symbolStrokeWidth": 1.2, "labelFontSize": 16.7, "labelOffset": 10.65, "rowPadding": 1.6, "labelExpr": "datum.label == 'm1' ? 'Reconstructed Method 1' : datum.label == 'm2' ? 'Reconstructed Method 2' : 'Reconstructed Pixel tracks'"}},
  "stroke": {"field": "s", "type": "nominal", "scale": {"domain": ["m1", "m2", "px"], "range": ["black", "red", "blue"]},
    "legend": {"title": null, "orient": "none", "legendX": 165.65, "legendY": 221.65, "symbolSize": 121, "symbolStrokeWidth": 1.2, "labelFontSize": 16.7, "labelOffset": 10.65, "rowPadding": 1.6, "labelExpr": "datum.label == 'm1' ? 'Reconstructed Method 1' : datum.label == 'm2' ? 'Reconstructed Method 2' : 'Reconstructed Pixel tracks'"}}
 }},
{"data": {"name": "lt"}, "mark": {"type": "point", "opacity": 0},
 "encoding": {
  "x": {"field": "e", "type": "quantitative", "scale": {"domain": [-3, 3], "nice": false, "zero": false}, "axis": {"orient": "top", "values": [-3, -2, -1, 0, 1, 2, 3], "labels": false, "tickSize": -10, "title": null}},
  "y": {"field": "v", "type": "quantitative", "scale": {"domain": [0, 60], "nice": false, "zero": false}, "axis": {"orient": "left", "values": [5, 15, 25, 35, 45, 55], "labels": false, "tickSize": -7, "title": null}}
 }},
{"data": {"name": "lt"}, "mark": {"type": "point", "opacity": 0},
 "encoding": {
  "x": {"field": "e", "type": "quantitative", "scale": {"domain": [-3, 3], "nice": false, "zero": false}, "axis": {"orient": "top", "values": [-2.5, -1.5, -0.5, 0.5, 1.5, 2.5], "labels": false, "tickSize": -5, "title": null}},
  "y": {"field": "v", "type": "quantitative", "scale": {"domain": [0, 60], "nice": false, "zero": false}, "axis": {"orient": "right", "values": [0, 10, 20, 30, 40, 50], "labels": false, "tickSize": -14, "title": null}}
 }},
{"data": {"name": "lt"}, "mark": {"type": "point", "opacity": 0},
 "encoding": {
  "x": {"field": "e", "type": "quantitative", "scale": {"domain": [-3, 3], "nice": false, "zero": false}, "axis": null},
  "y": {"field": "v", "type": "quantitative", "scale": {"domain": [0, 60], "nice": false, "zero": false}, "axis": {"orient": "right", "values": [5, 15, 25, 35, 45, 55], "labels": false, "tickSize": -7, "title": null}}
 }},
{"data": {"values": [{}]}, "mark": {"type": "text", "text": "ATLAS", "align": "right", "baseline": "alphabetic", "fontSize": 18.5, "fontWeight": "bold", "fontStyle": "italic"},
 "encoding": {"x": {"datum": 1.471, "type": "quantitative", "axis": null}, "y": {"datum": 54.0, "type": "quantitative", "axis": null}}},
{"data": {"values": [{}]}, "mark": {"type": "text", "text": "Simulation", "align": "right", "baseline": "alphabetic", "fontSize": 18.5},
 "encoding": {"x": {"datum": 2.686, "type": "quantitative", "axis": null}, "y": {"datum": 54.0, "type": "quantitative", "axis": null}}},
{"data": {"values": [{}]}, "mark": {"type": "text", "text": "p", "align": "left", "baseline": "alphabetic", "fontSize": 18.5, "fontStyle": "italic"},
 "encoding": {"x": {"datum": 0.176, "type": "quantitative", "axis": null}, "y": {"datum": 49.6, "type": "quantitative", "axis": null}}},
{"data": {"values": [{}]}, "mark": {"type": "text", "text": "+Pb,", "align": "left", "baseline": "alphabetic", "fontSize": 18.5},
 "encoding": {"x": {"datum": 0.307, "type": "quantitative", "axis": null}, "y": {"datum": 49.6, "type": "quantitative", "axis": null}}},
{"data": {"values": [{}]}, "mark": {"type": "text", "text": "√", "align": "left", "baseline": "alphabetic", "fontSize": 18.5},
 "encoding": {"x": {"datum": 0.922, "type": "quantitative", "axis": null}, "y": {"datum": 49.6, "type": "quantitative", "axis": null}}},
{"data": {"values": [{}]}, "mark": {"type": "text", "text": "s", "align": "left", "baseline": "alphabetic", "fontSize": 18.5, "fontStyle": "italic"},
 "encoding": {"x": {"datum": 1.078, "type": "quantitative", "axis": null}, "y": {"datum": 49.6, "type": "quantitative", "axis": null}}},
{"data": {"values": [{}]}, "mark": {"type": "text", "text": "NN", "align": "left", "baseline": "alphabetic", "fontSize": 13},
 "encoding": {"x": {"datum": 1.19, "type": "quantitative", "axis": null}, "y": {"datum": 48.65, "type": "quantitative", "axis": null}}},
{"data": {"values": [{}]}, "mark": {"type": "rule", "strokeWidth": 1.2, "color": "black"},
 "encoding": {"x": {"datum": 1.013, "type": "quantitative", "axis": null}, "x2": {"datum": 1.444}, "y": {"datum": 52.76, "type": "quantitative", "axis": null}}},
{"data": {"values": [{}]}, "mark": {"type": "text", "text": "= 5.02 TeV", "align": "right", "baseline": "alphabetic", "fontSize": 18.5},
 "encoding": {"x": {"datum": 2.686, "type": "quantitative", "axis": null}, "y": {"datum": 49.6, "type": "quantitative", "axis": null}}},
{"data": {"values": [{}]}, "mark": {"type": "text", "text": "y", "align": "left", "baseline": "alphabetic", "fontSize": 18.5, "fontStyle": "italic"},
 "encoding": {"x": {"datum": 1.51, "type": "quantitative", "axis": null}, "y": {"datum": 45.13, "type": "quantitative", "axis": null}}},
{"data": {"values": [{}]}, "mark": {"type": "text", "text": "cm", "align": "left", "baseline": "alphabetic", "fontSize": 13},
 "encoding": {"x": {"datum": 1.654, "type": "quantitative", "axis": null}, "y": {"datum": 43.96, "type": "quantitative", "axis": null}}},
{"data": {"values": [{}]}, "mark": {"type": "text", "text": "= 0.465", "align": "right", "baseline": "alphabetic", "fontSize": 18.5},
 "encoding": {"x": {"datum": 2.686, "type": "quantitative", "axis": null}, "y": {"datum": 45.13, "type": "quantitative", "axis": null}}},
{"data": {"values": [{}]}, "mark": {"type": "text", "text": "0 - 10 %", "align": "right", "baseline": "alphabetic", "fontSize": 18.5},
 "encoding": {"x": {"datum": 2.686, "type": "quantitative", "axis": null}, "y": {"datum": 40.63, "type": "quantitative", "axis": null}}},
{"data": {"values": [{}]}, "mark": {"type": "text", "text": "1/N", "angle": 270, "align": "left", "baseline": "alphabetic", "fontSize": 21},
 "encoding": {"x": {"datum": -3.784, "type": "quantitative", "axis": null}, "y": {"datum": 6.0, "type": "quantitative", "axis": null}}},
{"data": {"values": [{}]}, "mark": {"type": "text", "text": "evt", "angle": 270, "align": "left", "baseline": "alphabetic", "fontSize": 15, "dy": 7},
 "encoding": {"x": {"datum": -3.784, "type": "quantitative", "axis": null}, "y": {"datum": 14.0, "type": "quantitative", "axis": null}}},
{"data": {"values": [{}]}, "mark": {"type": "text", "text": "dN", "angle": 270, "align": "left", "baseline": "alphabetic", "fontSize": 21},
 "encoding": {"x": {"datum": -3.784, "type": "quantitative", "axis": null}, "y": {"datum": 19.7, "type": "quantitative", "axis": null}}},
{"data": {"values": [{}]}, "mark": {"type": "text", "text": "tr", "angle": 270, "align": "left", "baseline": "alphabetic", "fontSize": 15, "dy": 7},
 "encoding": {"x": {"datum": -3.784, "type": "quantitative", "axis": null}, "y": {"datum": 25.8, "type": "quantitative", "axis": null}}},
{"data": {"values": [{}]}, "mark": {"type": "text", "text": "/ dη or dN", "angle": 270, "align": "left", "baseline": "alphabetic", "fontSize": 21},
 "encoding": {"x": {"datum": -3.784, "type": "quantitative", "axis": null}, "y": {"datum": 29.9, "type": "quantitative", "axis": null}}},
{"data": {"values": [{}]}, "mark": {"type": "text", "text": "ch", "angle": 270, "align": "left", "baseline": "alphabetic", "fontSize": 15, "dy": 7},
 "encoding": {"x": {"datum": -3.784, "type": "quantitative", "axis": null}, "y": {"datum": 48.65, "type": "quantitative", "axis": null}}},
{"data": {"values": [{}]}, "mark": {"type": "text", "text": "/dη", "angle": 270, "align": "left", "baseline": "alphabetic", "fontSize": 21},
 "encoding": {"x": {"datum": -3.784, "type": "quantitative", "axis": null}, "y": {"datum": 52.76, "type": "quantitative", "axis": null}}}
]
},
{
"width": 459, "height": 157,
"resolve": {"axis": {"x": "independent", "y": "independent"}},
"layer": [
{"data": {"name": "lb"}, "transform": [{"filter": "datum.s == 'm1'"}], "mark": {"type": "point", "filled": false, "size": 121, "strokeWidth": 1.2, "opacity": 1, "color": "black", "shape": "M -0.62 0 A 0.62 0.62 0 1 0 0.62 0 A 0.62 0.62 0 1 0 -0.62 0 Z"},
 "encoding": {
  "x": {"field": "e", "type": "quantitative", "scale": {"domain": [-3, 3], "nice": false, "zero": false}, "axis": {"orient": "bottom", "values": [-3, -2, -1, 0, 1, 2, 3], "ticks": false, "labelPadding": 11, "format": "~r", "title": "η", "titleX": 454, "titleY": 51, "titleAlign": "center", "titleBaseline": "alphabetic", "titleFontSize": 21}},
  "y": {"field": "v", "type": "quantitative", "scale": {"domain": [0, 0.987], "nice": false, "zero": false}, "axis": {"orient": "left", "values": [0, 0.2, 0.4, 0.6, 0.8], "ticks": false, "labelPadding": 10, "format": "~r", "title": "Ratio to generated", "titleX": -68, "titleY": -7, "titleAngle": 270, "titleAlign": "right", "titleBaseline": "alphabetic", "titleFontSize": 18.5}}
 }},
{"data": {"name": "lb"}, "transform": [{"filter": "datum.s == 'm2'"}], "mark": {"type": "point", "filled": false, "size": 121, "strokeWidth": 1.2, "opacity": 1, "color": "red", "shape": "M -0.56 -0.56 H 0.56 V 0.56 H -0.56 Z"},
 "encoding": {
  "x": {"field": "e", "type": "quantitative", "scale": {"domain": [-3, 3], "nice": false, "zero": false}, "axis": {"orient": "bottom", "values": [-3, -2, -1, 0, 1, 2, 3], "labels": false, "tickSize": -10, "title": null}},
  "y": {"field": "v", "type": "quantitative", "scale": {"domain": [0, 0.987], "nice": false, "zero": false}, "axis": {"orient": "left", "values": [0, 0.2, 0.4, 0.6, 0.8], "labels": false, "tickSize": -13, "title": null}}
 }},
{"data": {"name": "lb"}, "transform": [{"filter": "datum.s == 'px'"}], "mark": {"type": "point", "filled": false, "size": 121, "strokeWidth": 1.2, "opacity": 1, "color": "blue", "shape": "M 0 -1 L 0.64 0 L 0 1 L -0.64 0 Z"},
 "encoding": {
  "x": {"field": "e", "type": "quantitative", "scale": {"domain": [-3, 3], "nice": false, "zero": false}, "axis": {"orient": "bottom", "values": [-2.5, -1.5, -0.5, 0.5, 1.5, 2.5], "labels": false, "tickSize": -5, "title": null}},
  "y": {"field": "v", "type": "quantitative", "scale": {"domain": [0, 0.987], "nice": false, "zero": false}, "axis": {"orient": "left", "values": [0.1, 0.3, 0.5, 0.7, 0.9], "labels": false, "tickSize": -7, "title": null}}
 }},
{"data": {"name": "lb"}, "mark": {"type": "point", "opacity": 0},
 "encoding": {
  "x": {"field": "e", "type": "quantitative", "scale": {"domain": [-3, 3], "nice": false, "zero": false}, "axis": {"orient": "top", "values": [-3, -2, -1, 0, 1, 2, 3], "labels": false, "tickSize": -7, "title": null}},
  "y": {"field": "v", "type": "quantitative", "scale": {"domain": [0, 0.987], "nice": false, "zero": false}, "axis": {"orient": "right", "values": [0, 0.2, 0.4, 0.6, 0.8], "labels": false, "tickSize": -13, "title": null}}
 }},
{"data": {"name": "lb"}, "mark": {"type": "point", "opacity": 0},
 "encoding": {
  "x": {"field": "e", "type": "quantitative", "scale": {"domain": [-3, 3], "nice": false, "zero": false}, "axis": {"orient": "top", "values": [-2.5, -1.5, -0.5, 0.5, 1.5, 2.5], "labels": false, "tickSize": -4, "title": null}},
  "y": {"field": "v", "type": "quantitative", "scale": {"domain": [0, 0.987], "nice": false, "zero": false}, "axis": {"orient": "right", "values": [0.1, 0.3, 0.5, 0.7, 0.9], "labels": false, "tickSize": -7, "title": null}}
 }}
]
}
]
},
{
"spacing": 0,
"bounds": "flush",
"resolve": {"scale": {"shape": "independent", "stroke": "independent", "fill": "independent", "color": "independent"}},
"vconcat": [
{
"width": 457, "height": 307,
"resolve": {"axis": {"x": "independent", "y": "independent"}},
"layer": [
{"data": {"name": "rt"}, "mark": {"type": "point", "filled": true, "size": 121, "strokeWidth": 1.2, "opacity": 1},
 "encoding": {
  "x": {"field": "e", "type": "quantitative", "scale": {"domain": [-3, 3], "nice": false, "zero": false}, "axis": {"orient": "bottom", "values": [-3, -2, -1, 0, 1, 2, 3], "labels": false, "tickSize": -10, "title": null}},
  "y": {"field": "v", "type": "quantitative", "scale": {"domain": [0, 60], "nice": false, "zero": false}, "axis": {"orient": "left", "values": [0, 10, 20, 30, 40, 50], "ticks": false, "labelPadding": 10, "format": "~r", "title": null, "labelBaseline": {"condition": {"test": "datum.value == 0", "value": "alphabetic"}, "value": "middle"}}},
  "shape": {"field": "s", "type": "nominal", "scale": {"domain": ["r1", "r2", "rp", "c1", "c2", "cp"], "range": ["M -0.62 0 A 0.62 0.62 0 1 0 0.62 0 A 0.62 0.62 0 1 0 -0.62 0 Z", "M -0.56 -0.56 H 0.56 V 0.56 H -0.56 Z", "M 0 -1 L 0.64 0 L 0 1 L -0.64 0 Z", "M -0.66 0 A 0.66 0.66 0 1 0 0.66 0 A 0.66 0.66 0 1 0 -0.66 0 Z", "M -0.52 -0.52 H 0.52 V 0.52 H -0.52 Z", "M 0 -0.95 L 0.62 0 L 0 0.95 L -0.62 0 Z"]},
    "legend": {"title": null, "orient": "none", "legendX": 88.3, "legendY": 199.5, "symbolSize": 121, "symbolStrokeWidth": 1.2, "labelFontSize": 16.8, "labelOffset": 25.6, "rowPadding": -6, "clipHeight": 14.3, "labelExpr": "datum.label == 'r1' ? 'Raw Method 1' : datum.label == 'r2' ? 'Raw Method 2' : datum.label == 'rp' ? 'Raw Pixel tracks' : datum.label == 'c1' ? 'Corrected Method 1' : datum.label == 'c2' ? 'Corrected Method 2' : 'Corrected Pixel Tracks'"}},
  "stroke": {"field": "s", "type": "nominal", "scale": {"domain": ["r1", "r2", "rp", "c1", "c2", "cp"], "range": ["black", "red", "blue", "black", "red", "blue"]},
    "legend": {"title": null, "orient": "none", "legendX": 88.3, "legendY": 199.5, "symbolSize": 121, "symbolStrokeWidth": 1.2, "labelFontSize": 16.8, "labelOffset": 25.6, "rowPadding": -6, "clipHeight": 14.3, "labelExpr": "datum.label == 'r1' ? 'Raw Method 1' : datum.label == 'r2' ? 'Raw Method 2' : datum.label == 'rp' ? 'Raw Pixel tracks' : datum.label == 'c1' ? 'Corrected Method 1' : datum.label == 'c2' ? 'Corrected Method 2' : 'Corrected Pixel Tracks'"}},
  "fill": {"field": "s", "type": "nominal", "scale": {"domain": ["r1", "r2", "rp", "c1", "c2", "cp"], "range": ["transparent", "transparent", "transparent", "black", "red", "blue"]},
    "legend": {"title": null, "orient": "none", "legendX": 88.3, "legendY": 199.5, "symbolSize": 121, "symbolStrokeWidth": 1.2, "labelFontSize": 16.8, "labelOffset": 25.6, "rowPadding": -6, "clipHeight": 14.3, "labelExpr": "datum.label == 'r1' ? 'Raw Method 1' : datum.label == 'r2' ? 'Raw Method 2' : datum.label == 'rp' ? 'Raw Pixel tracks' : datum.label == 'c1' ? 'Corrected Method 1' : datum.label == 'c2' ? 'Corrected Method 2' : 'Corrected Pixel Tracks'"}}
 }},
{"data": {"name": "rt"}, "mark": {"type": "point", "opacity": 0},
 "encoding": {
  "x": {"field": "e", "type": "quantitative", "scale": {"domain": [-3, 3], "nice": false, "zero": false}, "axis": {"orient": "bottom", "values": [-2.5, -1.5, -0.5, 0.5, 1.5, 2.5], "labels": false, "tickSize": -5, "title": null}},
  "y": {"field": "v", "type": "quantitative", "scale": {"domain": [0, 60], "nice": false, "zero": false}, "axis": {"orient": "left", "values": [0, 10, 20, 30, 40, 50], "labels": false, "tickSize": -14, "title": null}}
 }},
{"data": {"name": "rt"}, "mark": {"type": "point", "opacity": 0},
 "encoding": {
  "x": {"field": "e", "type": "quantitative", "scale": {"domain": [-3, 3], "nice": false, "zero": false}, "axis": {"orient": "top", "values": [-3, -2, -1, 0, 1, 2, 3], "labels": false, "tickSize": -10, "title": null}},
  "y": {"field": "v", "type": "quantitative", "scale": {"domain": [0, 60], "nice": false, "zero": false}, "axis": {"orient": "left", "values": [5, 15, 25, 35, 45, 55], "labels": false, "tickSize": -7, "title": null}}
 }},
{"data": {"name": "rt"}, "mark": {"type": "point", "opacity": 0},
 "encoding": {
  "x": {"field": "e", "type": "quantitative", "scale": {"domain": [-3, 3], "nice": false, "zero": false}, "axis": {"orient": "top", "values": [-2.5, -1.5, -0.5, 0.5, 1.5, 2.5], "labels": false, "tickSize": -5, "title": null}},
  "y": {"field": "v", "type": "quantitative", "scale": {"domain": [0, 60], "nice": false, "zero": false}, "axis": {"orient": "right", "values": [0, 10, 20, 30, 40, 50], "labels": false, "tickSize": -14, "title": null}}
 }},
{"data": {"name": "rt"}, "mark": {"type": "point", "opacity": 0},
 "encoding": {
  "x": {"field": "e", "type": "quantitative", "scale": {"domain": [-3, 3], "nice": false, "zero": false}, "axis": null},
  "y": {"field": "v", "type": "quantitative", "scale": {"domain": [0, 60], "nice": false, "zero": false}, "axis": {"orient": "right", "values": [5, 15, 25, 35, 45, 55], "labels": false, "tickSize": -7, "title": null}}
 }},
{"data": {"values": [{}]}, "mark": {"type": "text", "text": "ATLAS", "align": "right", "baseline": "alphabetic", "fontSize": 18.5, "fontWeight": "bold", "fontStyle": "italic"},
 "encoding": {"x": {"datum": 2.617, "type": "quantitative", "axis": null}, "y": {"datum": 54.0, "type": "quantitative", "axis": null}}},
{"data": {"values": [{}]}, "mark": {"type": "text", "text": "p", "align": "left", "baseline": "alphabetic", "fontSize": 18.5, "fontStyle": "italic"},
 "encoding": {"x": {"datum": 0.228, "type": "quantitative", "axis": null}, "y": {"datum": 49.6, "type": "quantitative", "axis": null}}},
{"data": {"values": [{}]}, "mark": {"type": "text", "text": "+Pb,", "align": "left", "baseline": "alphabetic", "fontSize": 18.5},
 "encoding": {"x": {"datum": 0.36, "type": "quantitative", "axis": null}, "y": {"datum": 49.6, "type": "quantitative", "axis": null}}},
{"data": {"values": [{}]}, "mark": {"type": "text", "text": "√", "align": "left", "baseline": "alphabetic", "fontSize": 18.5},
 "encoding": {"x": {"datum": 0.937, "type": "quantitative", "axis": null}, "y": {"datum": 49.6, "type": "quantitative", "axis": null}}},
{"data": {"values": [{}]}, "mark": {"type": "text", "text": "s", "align": "left", "baseline": "alphabetic", "fontSize": 18.5, "fontStyle": "italic"},
 "encoding": {"x": {"datum": 1.081, "type": "quantitative", "axis": null}, "y": {"datum": 49.6, "type": "quantitative", "axis": null}}},
{"data": {"values": [{}]}, "mark": {"type": "text", "text": "NN", "align": "left", "baseline": "alphabetic", "fontSize": 13},
 "encoding": {"x": {"datum": 1.193, "type": "quantitative", "axis": null}, "y": {"datum": 48.65, "type": "quantitative", "axis": null}}},
{"data": {"values": [{}]}, "mark": {"type": "rule", "strokeWidth": 1.2, "color": "black"},
 "encoding": {"x": {"datum": 1.003, "type": "quantitative", "axis": null}, "x2": {"datum": 1.449}, "y": {"datum": 52.76, "type": "quantitative", "axis": null}}},
{"data": {"values": [{}]}, "mark": {"type": "text", "text": "= 5.02 TeV", "align": "right", "baseline": "alphabetic", "fontSize": 18.5},
 "encoding": {"x": {"datum": 2.696, "type": "quantitative", "axis": null}, "y": {"datum": 49.6, "type": "quantitative", "axis": null}}},
{"data": {"values": [{}]}, "mark": {"type": "text", "text": "y", "align": "left", "baseline": "alphabetic", "fontSize": 18.5, "fontStyle": "italic"},
 "encoding": {"x": {"datum": 0.858, "type": "quantitative", "axis": null}, "y": {"datum": 45.13, "type": "quantitative", "axis": null}}},
{"data": {"values": [{}]}, "mark": {"type": "text", "text": "cm", "align": "left", "baseline": "alphabetic", "fontSize": 13},
 "encoding": {"x": {"datum": 0.99, "type": "quantitative", "axis": null}, "y": {"datum": 43.96, "type": "quantitative", "axis": null}}},
{"data": {"values": [{}]}, "mark": {"type": "text", "text": "= 0.465, 1μb", "align": "right", "baseline": "alphabetic", "fontSize": 18.5},
 "encoding": {"x": {"datum": 2.577, "type": "quantitative", "axis": null}, "y": {"datum": 45.13, "type": "quantitative", "axis": null}}},
{"data": {"values": [{}]}, "mark": {"type": "text", "text": "-1", "align": "left", "baseline": "alphabetic", "fontSize": 13},
 "encoding": {"x": {"datum": 2.59, "type": "quantitative", "axis": null}, "y": {"datum": 46.9, "type": "quantitative", "axis": null}}},
{"data": {"values": [{}]}, "mark": {"type": "text", "text": "0 - 10 %", "align": "right", "baseline": "alphabetic", "fontSize": 18.5},
 "encoding": {"x": {"datum": 2.696, "type": "quantitative", "axis": null}, "y": {"datum": 40.63, "type": "quantitative", "axis": null}}},
{"data": {"values": [{}]}, "mark": {"type": "text", "text": "1/N", "angle": 270, "align": "left", "baseline": "alphabetic", "fontSize": 21},
 "encoding": {"x": {"datum": -3.8, "type": "quantitative", "axis": null}, "y": {"datum": 6.0, "type": "quantitative", "axis": null}}},
{"data": {"values": [{}]}, "mark": {"type": "text", "text": "evt", "angle": 270, "align": "left", "baseline": "alphabetic", "fontSize": 15, "dy": 7},
 "encoding": {"x": {"datum": -3.8, "type": "quantitative", "axis": null}, "y": {"datum": 14.0, "type": "quantitative", "axis": null}}},
{"data": {"values": [{}]}, "mark": {"type": "text", "text": "dN", "angle": 270, "align": "left", "baseline": "alphabetic", "fontSize": 21},
 "encoding": {"x": {"datum": -3.8, "type": "quantitative", "axis": null}, "y": {"datum": 19.7, "type": "quantitative", "axis": null}}},
{"data": {"values": [{}]}, "mark": {"type": "text", "text": "tr", "angle": 270, "align": "left", "baseline": "alphabetic", "fontSize": 15, "dy": 7},
 "encoding": {"x": {"datum": -3.8, "type": "quantitative", "axis": null}, "y": {"datum": 25.8, "type": "quantitative", "axis": null}}},
{"data": {"values": [{}]}, "mark": {"type": "text", "text": "/ dη or dN", "angle": 270, "align": "left", "baseline": "alphabetic", "fontSize": 21},
 "encoding": {"x": {"datum": -3.8, "type": "quantitative", "axis": null}, "y": {"datum": 29.9, "type": "quantitative", "axis": null}}},
{"data": {"values": [{}]}, "mark": {"type": "text", "text": "ch", "angle": 270, "align": "left", "baseline": "alphabetic", "fontSize": 15, "dy": 7},
 "encoding": {"x": {"datum": -3.8, "type": "quantitative", "axis": null}, "y": {"datum": 48.65, "type": "quantitative", "axis": null}}},
{"data": {"values": [{}]}, "mark": {"type": "text", "text": "/dη", "angle": 270, "align": "left", "baseline": "alphabetic", "fontSize": 21},
 "encoding": {"x": {"datum": -3.8, "type": "quantitative", "axis": null}, "y": {"datum": 52.76, "type": "quantitative", "axis": null}}}
]
},
{
"width": 457, "height": 157,
"resolve": {"axis": {"x": "independent", "y": "independent"}},
"layer": [
{"data": {"name": "rb"}, "transform": [{"filter": "datum.s == 'c2'"}], "mark": {"type": "point", "filled": true, "size": 81, "strokeWidth": 1.2, "opacity": 1, "color": "red", "stroke": "red", "shape": "M -0.52 -0.52 H 0.52 V 0.52 H -0.52 Z"},
 "encoding": {
  "x": {"field": "e", "type": "quantitative", "scale": {"domain": [-3, 3], "nice": false, "zero": false}, "axis": {"orient": "bottom", "values": [-3, -2, -1, 0, 1, 2, 3], "ticks": false, "labelPadding": 11, "format": "~r", "title": "η", "titleX": 452, "titleY": 51, "titleAlign": "center", "titleBaseline": "alphabetic", "titleFontSize": 21}},
  "y": {"field": "v", "type": "quantitative", "scale": {"domain": [0.96, 1.0487], "nice": false, "zero": false}, "axis": {"orient": "left", "values": [0.96, 0.98, 1, 1.02, 1.04], "ticks": false, "labelPadding": 10, "format": "~r", "title": "Ratio to Method 1", "titleX": -63, "titleY": -10, "titleAngle": 270, "titleAlign": "right", "titleBaseline": "alphabetic", "titleFontSize": 18.5}}
 }},
{"data": {"name": "rb"}, "transform": [{"filter": "datum.s == 'cp'"}], "mark": {"type": "point", "filled": true, "size": 81, "strokeWidth": 1.2, "opacity": 1, "color": "blue", "stroke": "blue", "shape": "M 0 -0.95 L 0.62 0 L 0 0.95 L -0.62 0 Z"},
 "encoding": {
  "x": {"field": "e", "type": "quantitative", "scale": {"domain": [-3, 3], "nice": false, "zero": false}, "axis": {"orient": "bottom", "values": [-3, -2, -1, 0, 1, 2, 3], "labels": false, "tickSize": -10, "title": null}},
  "y": {"field": "v", "type": "quantitative", "scale": {"domain": [0.96, 1.0487], "nice": false, "zero": false}, "axis": {"orient": "left", "values": [0.96, 0.98, 1, 1.02, 1.04], "labels": false, "tickSize": -13, "title": null}}
 }},
{"data": {"name": "rb"}, "mark": {"type": "point", "opacity": 0},
 "encoding": {
  "x": {"field": "e", "type": "quantitative", "scale": {"domain": [-3, 3], "nice": false, "zero": false}, "axis": {"orient": "bottom", "values": [-2.5, -1.5, -0.5, 0.5, 1.5, 2.5], "labels": false, "tickSize": -5, "title": null}},
  "y": {"field": "v", "type": "quantitative", "scale": {"domain": [0.96, 1.0487], "nice": false, "zero": false}, "axis": {"orient": "left", "values": [0.97, 0.99, 1.01, 1.03], "labels": false, "tickSize": -7, "title": null}}
 }},
{"data": {"name": "rb"}, "mark": {"type": "point", "opacity": 0},
 "encoding": {
  "x": {"field": "e", "type": "quantitative", "scale": {"domain": [-3, 3], "nice": false, "zero": false}, "axis": {"orient": "top", "values": [-3, -2, -1, 0, 1, 2, 3], "labels": false, "tickSize": -7, "title": null}},
  "y": {"field": "v", "type": "quantitative", "scale": {"domain": [0.96, 1.0487], "nice": false, "zero": false}, "axis": {"orient": "right", "values": [0.96, 0.98, 1, 1.02, 1.04], "labels": false, "tickSize": -13, "title": null}}
 }},
{"data": {"name": "rb"}, "mark": {"type": "point", "opacity": 0},
 "encoding": {
  "x": {"field": "e", "type": "quantitative", "scale": {"domain": [-3, 3], "nice": false, "zero": false}, "axis": {"orient": "top", "values": [-2.5, -1.5, -0.5, 0.5, 1.5, 2.5], "labels": false, "tickSize": -4, "title": null}},
  "y": {"field": "v", "type": "quantitative", "scale": {"domain": [0.96, 1.0487], "nice": false, "zero": false}, "axis": {"orient": "right", "values": [0.97, 0.99, 1.01, 1.03], "labels": false, "tickSize": -7, "title": null}}
 }}
]
}
]
}
]
}
